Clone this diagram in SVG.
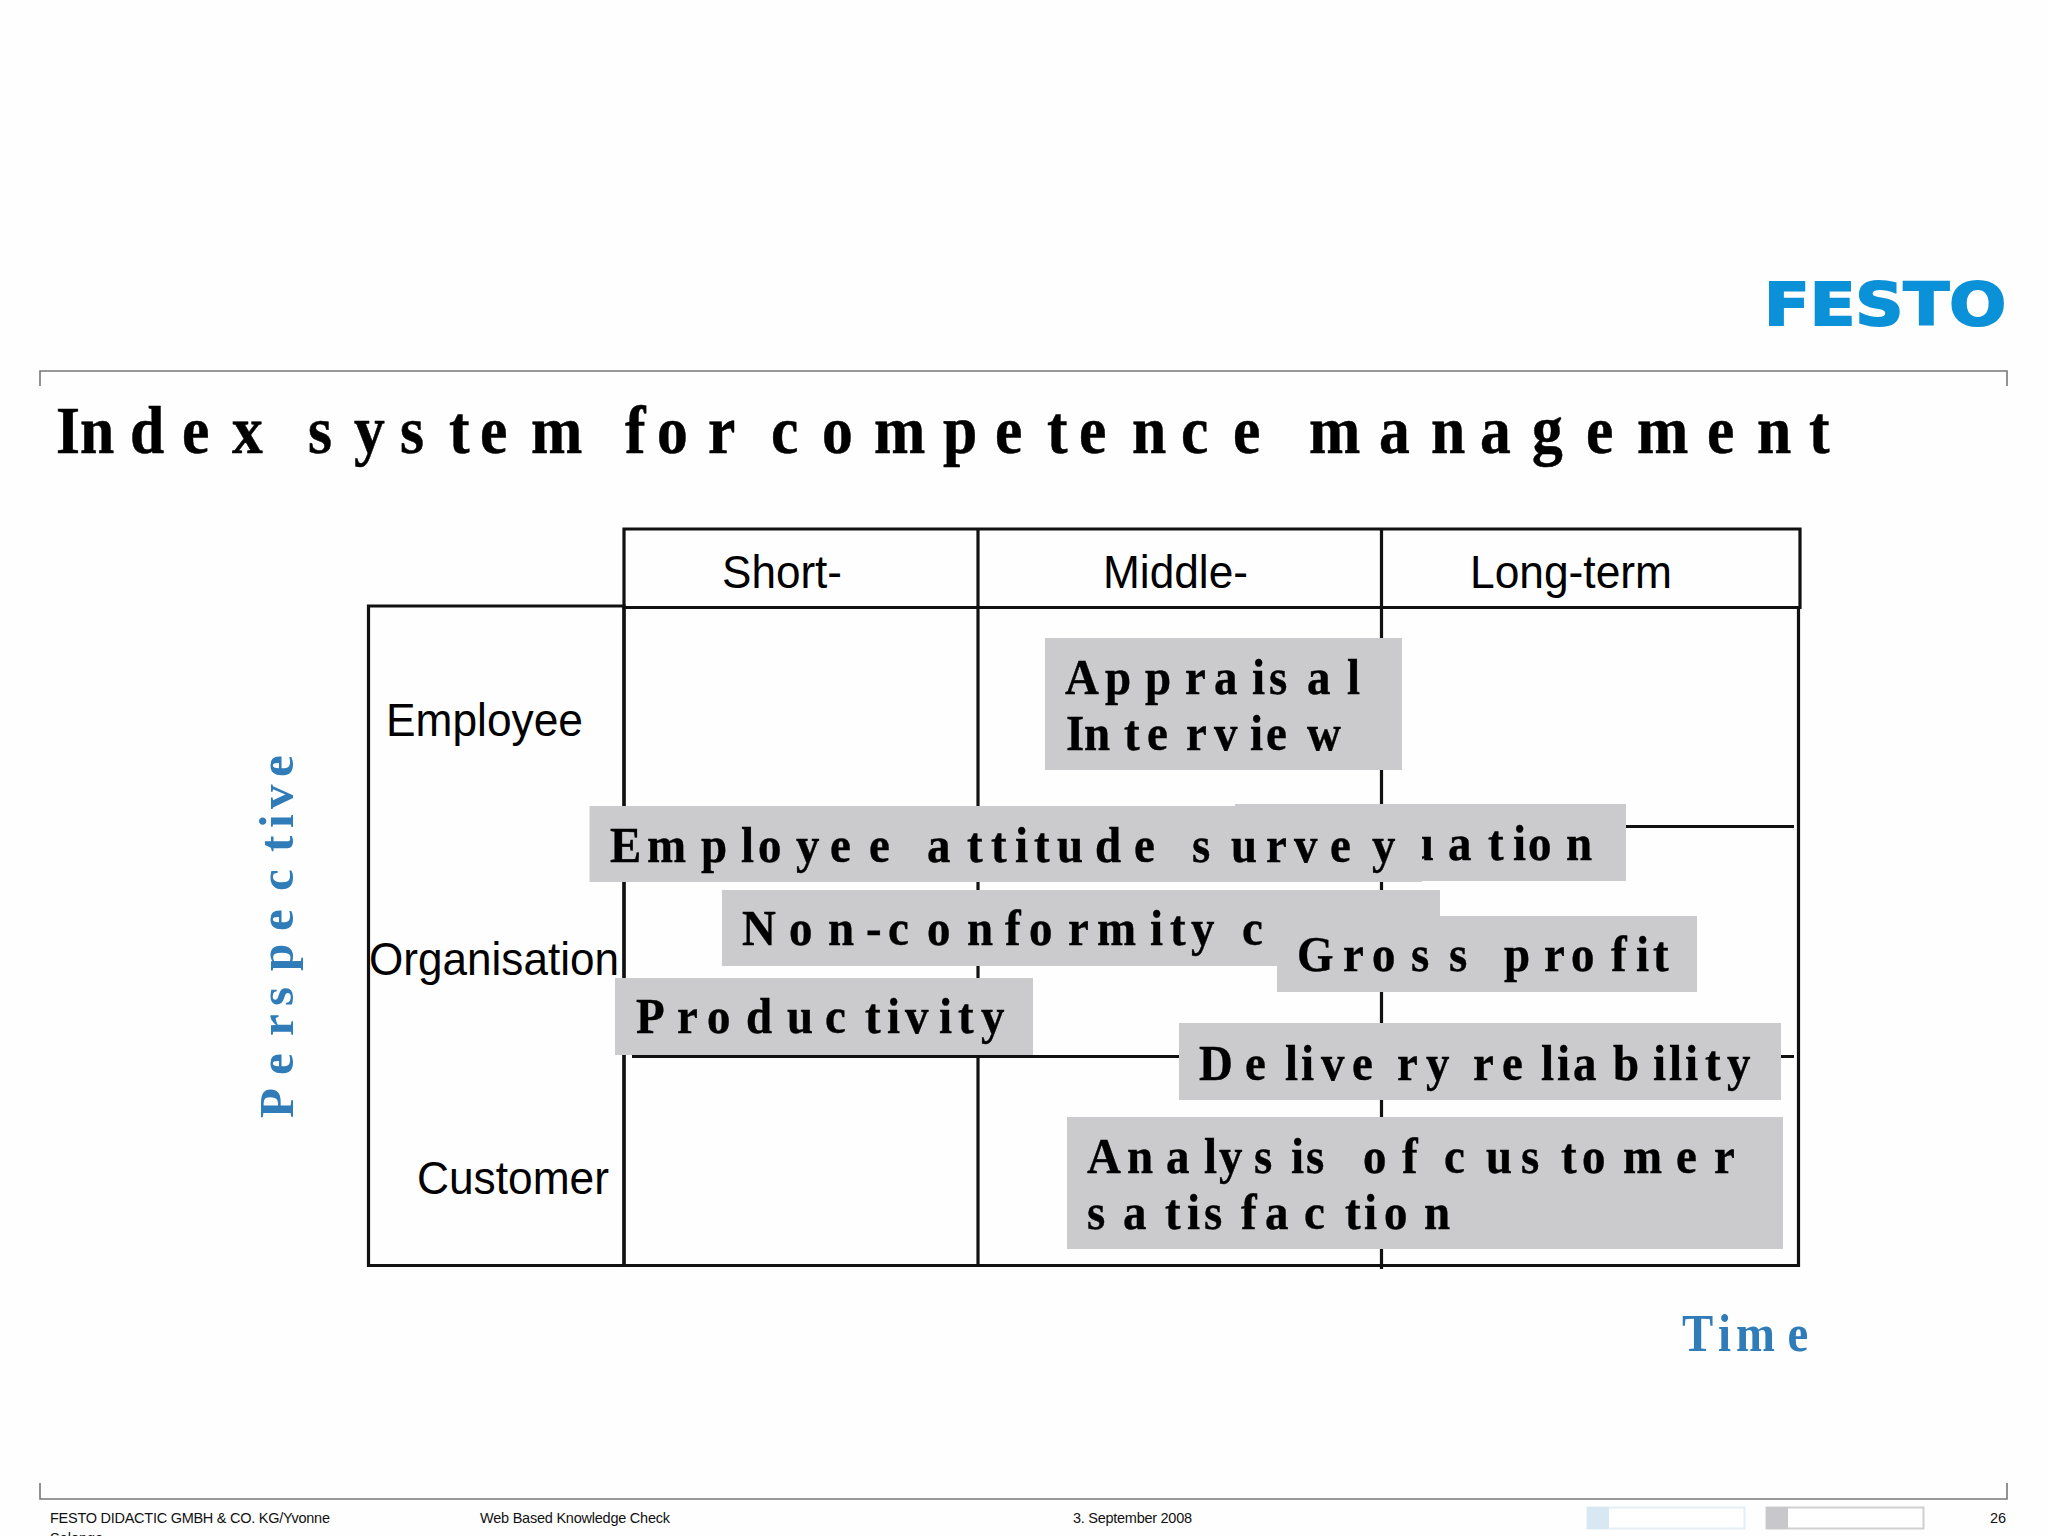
<svg xmlns="http://www.w3.org/2000/svg" width="2048" height="1536" viewBox="0 0 2048 1536">
<style>
.ser{font-family:"Liberation Serif","Times New Roman",serif;font-weight:700}
.c{transform:scale(.92,1)}
.box{fill:#cbcbcd}
.bt{font-size:51px;fill:#000;stroke:#000;stroke-width:.4}
.ax{font-size:52px;fill:#2f7cb8}
.sans{font-family:"Liberation Sans",Arial,sans-serif}
.hd{font-size:46px;fill:#000}
.ft{font-size:14.5px;fill:#111}
.grid{fill:none;stroke:#111;stroke-width:3.2}
.frame{fill:none;stroke:#777;stroke-width:1.6}
</style>
<rect width="2048" height="1536" fill="#fefefe"/>
<g id="logo"><text x="1764" y="325" font-size="58" font-weight="700" fill="#0a91d8" stroke="#0a91d8" stroke-width="2" textLength="242" lengthAdjust="spacingAndGlyphs" style="font-family:'DejaVu Sans',sans-serif">FESTO</text></g>
<g id="frames">
<path class="frame" d="M40 386V371H2007V386"/>
<path class="frame" d="M40 1483V1499H2007V1483"/>
</g>
<g id="title"><text class="ser c" font-size="67" y="453" fill="#000" stroke="#000" stroke-width=".5" x="60.900 87 141.300 197.800 252.200 293.500 334.800 384.800 434.800 488 521.700 577.200 638 679.300 714.100 769.600 812 838 893.500 950 1025 1081.500 1138 1172.800 1230.400 1283.700 1340.200 1388 1422.800 1498.900 1555.400 1608.700 1665.200 1723.900 1779.300 1855.400 1909.800 1966.300">Index system for competence management</text></g>
<g id="connectors">
<path class="grid" d="M624 529H1800V607.500H624Z"/>
<path class="grid" d="M368.500 606H624V1265.500H368.500Z"/>
<path class="grid" d="M624 607V1265.500H1798.500V607"/>
<path class="grid" d="M978 529V1265"/>
<path class="grid" d="M1381.500 529V1269"/>
<path class="grid" d="M1400 826.500H1794"/>
<path class="grid" d="M632 1056.500H1794"/>
</g>
<g id="header-short"><text class="sans hd" x="722" y="588" textLength="120" lengthAdjust="spacingAndGlyphs">Short-</text></g>
<g id="header-middle"><text class="sans hd" x="1103" y="588" textLength="145" lengthAdjust="spacingAndGlyphs">Middle-</text></g>
<g id="header-long"><text class="sans hd" x="1470" y="588" textLength="202" lengthAdjust="spacingAndGlyphs">Long-term</text></g>
<g id="row-employee"><text class="sans hd" x="386" y="736" textLength="197" lengthAdjust="spacingAndGlyphs">Employee</text></g>
<g id="row-organisation"><text class="sans hd" x="369" y="975" textLength="250" lengthAdjust="spacingAndGlyphs">Organisation</text></g>
<g id="row-customer"><text class="sans hd" x="417" y="1194" textLength="192" lengthAdjust="spacingAndGlyphs">Customer</text></g>
<g id="node-appraisal">
<rect class="box" x="1045" y="638" width="357" height="132"/>
<text class="ser bt c" y="694" x="1157.600 1201.100 1244.600 1288 1319.600 1360.900 1379.300 1420.600 1464.100">Appraisal</text>
<text class="ser bt c" y="750" x="1158.700 1178.300 1221.700 1246.700 1289.100 1319.600 1358.700 1376.100 1420.600">Interview</text>
</g>
<g id="node-evaluation">
<rect class="box" x="1235" y="804" width="391" height="77"/>
<text class="ser bt c" y="860" x="1530.400 1573.900 1617.400 1644.600 1660.900 1702.200">uation</text>
</g>
<g id="node-employee-attitude">
<rect class="box" x="589.500" y="806" width="832.500" height="76"/>
<text class="ser bt c" y="862" x="663 703.300 762 805.400 823.900 865.200 902.200 944.600 977.200 1007.600 1051.100 1077.200 1103.300 1123.900 1148.900 1190.200 1232.600 1265.200 1295.700 1338 1376.100 1406.500 1445.700 1491.300">Employee attitude survey</text>
</g>
<g id="node-nonconformity">
<rect class="box" x="722" y="890" width="718" height="76"/>
<text class="ser bt c" y="945" x="806.500 857.600 900 941.300 965.200 1007.600 1051.100 1092.400 1118.500 1160.900 1192.400 1250 1271.700 1294.600 1325 1350">Non-conformity c</text>
</g>
<g id="node-gross-profit">
<rect class="box" x="1277" y="916" width="420" height="76"/>
<text class="ser bt c" y="971" x="1409.800 1459.800 1491.300 1533.700 1575 1607.600 1634.800 1678.300 1707.600 1751.100 1778.300 1796.700">Gross profit</text>
</g>
<g id="node-productivity">
<rect class="box" x="615" y="978" width="418" height="77"/>
<text class="ser bt c" y="1033" x="691.300 735.900 768.500 810.900 855.400 896.700 940.200 964.100 983.700 1020.700 1041.300 1066.300">Productivity</text>
</g>
<g id="node-delivery">
<rect class="box" x="1179" y="1023" width="602" height="77"/>
<text class="ser bt c" y="1080" x="1303.300 1353.300 1396.700 1414.100 1435.900 1469.600 1518.500 1550 1575 1601.100 1632.600 1675 1692.400 1709.800 1753.300 1796.700 1814.100 1831.500 1853.300 1877.200">Delivery reliability</text>
</g>
<g id="node-analysis">
<rect class="box" x="1067" y="1117" width="716" height="132"/>
<text class="ser bt c" y="1173" x="1181.500 1225 1267.400 1308.700 1325 1363 1403.300 1419.600 1455.400 1481.500 1523.900 1553.300 1569.600 1615.200 1653.300 1696.700 1719.600 1764.100 1821.700 1863">Analysis of customer</text>
<text class="ser bt c" y="1229" x="1181.500 1220.700 1266.300 1290.200 1308.700 1348.900 1375 1417.400 1461.900 1482.600 1504.300 1547.800">satisfaction</text>
</g>
<g id="axis-perspective"><text class="ser ax" style="font-size:49px" transform="translate(293 1118) rotate(-90)" y="0" x="0 43 82 112 147 187 227 266 290 309 341">Perspective</text></g>
<g id="axis-time"><text class="ser ax" transform="scale(.9 1)" y="1351" x="1869 1909 1929 1986">Time</text></g>
<g id="footer">
<text class="sans ft" x="50" y="1523" textLength="280">FESTO DIDACTIC GMBH &amp; CO. KG/Yvonne</text>
<text class="sans ft" x="50" y="1543">Salonga</text>
<text class="sans ft" x="480" y="1523" textLength="190">Web Based Knowledge Check</text>
<text class="sans ft" x="1073" y="1523" textLength="119">3. September 2008</text>
<text class="sans ft" x="1990" y="1523">26</text>
<rect x="1587.500" y="1507.500" width="157" height="21" fill="#fff" stroke="#e4eef5" stroke-width="2"/>
<rect x="1587" y="1507" width="22" height="22" fill="#d8e8f3"/>
<rect x="1766.500" y="1507.500" width="157" height="21" fill="#fff" stroke="#cfcfd1" stroke-width="2"/>
<rect x="1766" y="1507" width="22" height="22" fill="#c8c8ca"/>
</g>
</svg>
